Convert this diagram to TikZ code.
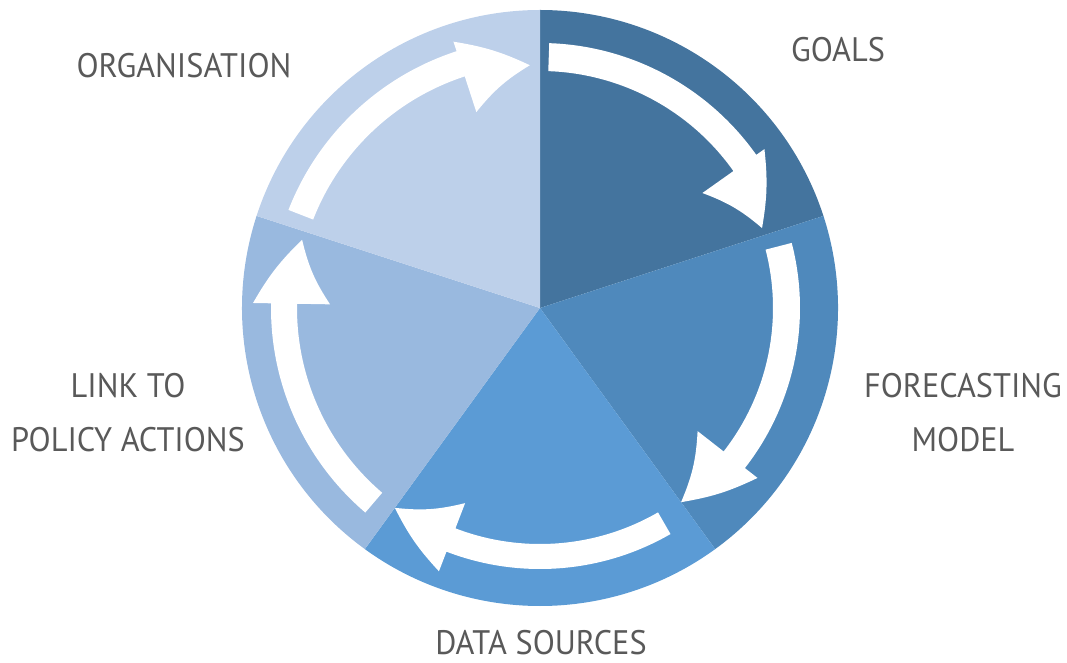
\documentclass[tikz,border=0pt]{standalone}
\usepackage{fontspec}
\setmainfont{PT Sans}[FakeStretch=0.95]
\definecolor{cgoals}{RGB}{68,116,158}
\definecolor{cfore}{RGB}{79,137,188}
\definecolor{cdata}{RGB}{91,155,213}
\definecolor{clink}{RGB}{153,185,223}
\definecolor{corg}{RGB}{189,208,234}
\definecolor{ctext}{RGB}{89,89,89}
\newcommand\cycarrow[8]{%
  % #1 tail, #2 base, #3 tip angle, #4 rin, #5 rout, #6 barb in, #7 barb out, #8 tip r
  \fill[white] (#1:#5pt) arc[start angle=#1, end angle=#2, radius=#5pt]
    -- (#2:#7pt) to[bend left=8] (#3:#8pt) to[bend right=10] (#2:#6pt) -- (#2:#4pt)
    arc[start angle=#2, end angle=#1, radius=#4pt] -- cycle;}
\begin{document}
\begin{tikzpicture}[x=1pt,y=1pt,
  lbl/.style={text=ctext, inner sep=0pt, align=center, font=\fontsize{34}{54}\selectfont}]
\useasboundingbox (0,0) rectangle (1067,662);
\begin{scope}[shift={(540,354)}]
  \fill[cgoals] (0,0) -- (90:298pt) arc[start angle=90, end angle=18, radius=298pt] -- cycle;
  \fill[cfore] (0,0) -- (18:298pt) arc[start angle=18, end angle=-54, radius=298pt] -- cycle;
  \fill[cdata] (0,0) -- (-54:298pt) arc[start angle=-54, end angle=-126, radius=298pt] -- cycle;
  \fill[clink] (0,0) -- (-126:298pt) arc[start angle=-126, end angle=-198, radius=298pt] -- cycle;
  \fill[corg] (0,0) -- (162:298pt) arc[start angle=162, end angle=90, radius=298pt] -- cycle;
  \cycarrow{88}{35.3}{19.8}{237}{265}{199}{275}{236}
  \cycarrow{14.5}{-38}{-54}{233}{260}{200}{276}{240}
  \cycarrow{-60}{-111}{-126}{236}{261}{209}{282}{247}
  \cycarrow{-130.5}{-181}{-196}{243}{269}{210}{287}{247.5}
  \cycarrow{158.7}{108}{92.4}{243.5}{270}{206}{280}{243}
\end{scope}
\node[lbl] (goals) at (838,612.5) {GOALS};
\node[lbl] (org) at (184,596.5) {ORGANISATION};
\node[lbl] (fore) at (963,249.5) {FORECASTING\\MODEL};
\node[lbl] (link) at (128,249.5) {LINK TO\\POLICY ACTIONS};
\node[lbl] (data) at (541,19.5) {DATA SOURCES};
\end{tikzpicture}
\end{document}
